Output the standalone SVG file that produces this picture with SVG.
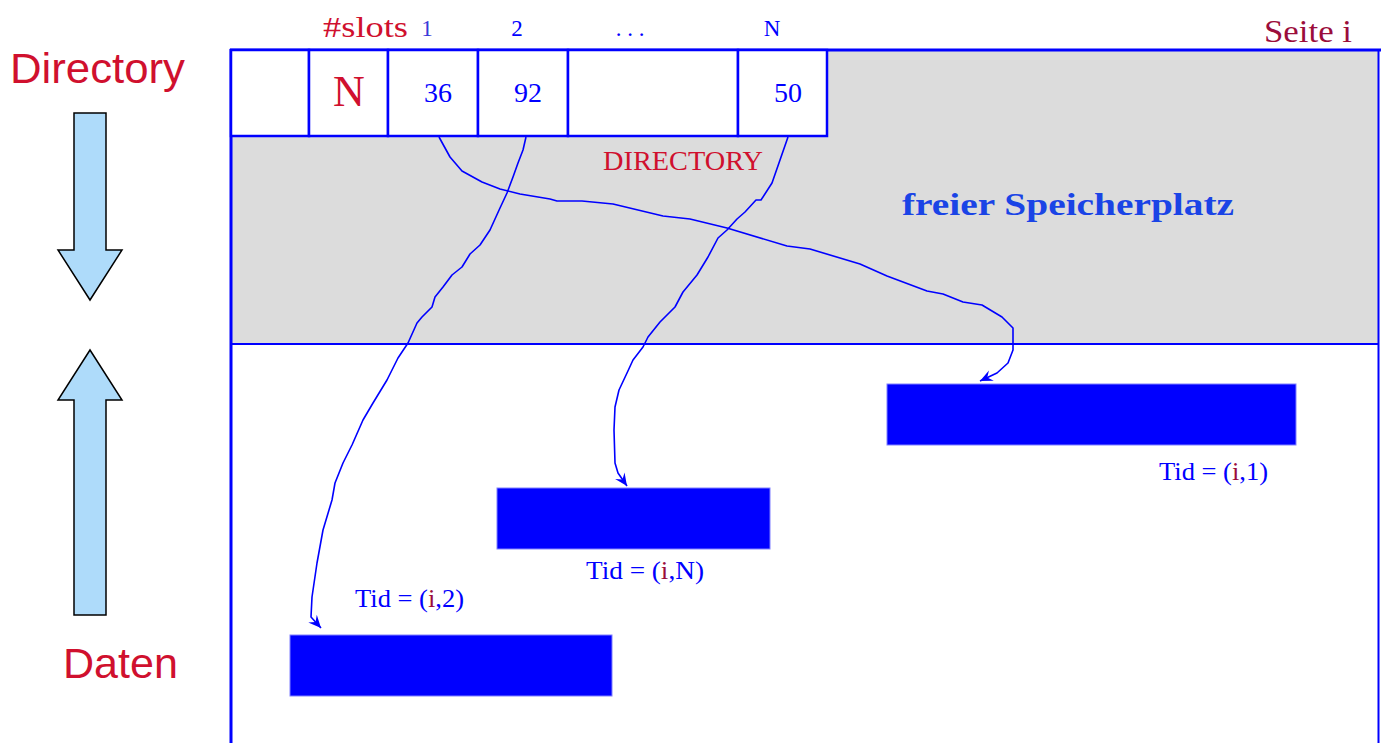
<svg xmlns="http://www.w3.org/2000/svg" width="1381" height="743" viewBox="0 0 1381 743">
<defs>
<style>
.serif{font-family:"Liberation Serif","DejaVu Serif",serif}
.sans{font-family:"Liberation Sans",Arial,sans-serif}
.red{fill:#d0102e}
.dred{fill:#9b0d3b}
.blue{fill:#0000ff}
.cell{fill:#ffffff;stroke:#0000ff;stroke-width:2.5}
.rec{fill:#0000ff;stroke:#8080ff;stroke-width:1}
.conn{fill:none;stroke:#0000ff;stroke-width:1.6;stroke-linejoin:round}
.big{fill:#aedbfa;stroke:#000;stroke-width:1.5}
</style>
<marker id="ah" markerUnits="userSpaceOnUse" markerWidth="16" markerHeight="14" viewBox="-12 -6 14 12" refX="0" refY="0" orient="auto">
<path d="M0,0 L-11,-5 L-7,0 L-11,5 Z" fill="#0000ff"/>
</marker>
</defs>
<rect width="1381" height="743" fill="#ffffff"/>

<g id="page">
<rect x="231" y="50" width="1147" height="294" fill="#dcdcdc"/>
<line x1="231" y1="344" x2="1379" y2="344" stroke="#0000ff" stroke-width="2"/>
<line x1="230" y1="50" x2="1381" y2="50" stroke="#0000ff" stroke-width="3"/>
<line x1="231" y1="49" x2="231" y2="743" stroke="#0000ff" stroke-width="3"/>
<line x1="1378.5" y1="50" x2="1378.5" y2="743" stroke="#0000ff" stroke-width="2"/>
<text x="1264" y="42" class="serif dred" font-size="31" textLength="88" lengthAdjust="spacingAndGlyphs">Seite i</text>
</g>

<g id="directory">
<rect class="cell" x="231" y="50" width="78" height="86"/>
<rect class="cell" x="309" y="50" width="79" height="86"/>
<rect class="cell" x="388" y="50" width="90" height="86"/>
<rect class="cell" x="478" y="50" width="90" height="86"/>
<rect class="cell" x="568" y="50" width="170" height="86"/>
<rect class="cell" x="738" y="50" width="89" height="86"/>
<text x="349" y="106" class="serif red" font-size="44" text-anchor="middle">N</text>
<text x="438" y="102" class="serif blue" font-size="28" text-anchor="middle">36</text>
<text x="528" y="102" class="serif blue" font-size="28" text-anchor="middle">92</text>
<text x="788" y="102" class="serif blue" font-size="28" text-anchor="middle">50</text>
<text x="323" y="37" class="serif red" font-size="29" textLength="85" lengthAdjust="spacingAndGlyphs">#slots</text>
<text x="427" y="36" class="serif" fill="#3a3ad8" font-size="23" text-anchor="middle">1</text>
<text x="517" y="36" class="serif blue" font-size="23" text-anchor="middle">2</text>
<text x="630" y="36" class="serif blue" font-size="23" text-anchor="middle">. . .</text>
<text x="772" y="36" class="serif blue" font-size="23" text-anchor="middle">N</text>
<text x="603" y="170" class="serif red" font-size="27" textLength="160" lengthAdjust="spacingAndGlyphs">DIRECTORY</text>
</g>

<g id="free-space">
<text x="902" y="215" class="serif" fill="#1a44e6" font-weight="bold" font-size="32" textLength="332" lengthAdjust="spacingAndGlyphs">freier Speicherplatz</text>
</g>

<g id="record-1">
<rect class="rec" x="887" y="384" width="409" height="61"/>
<text x="1159" y="480" class="serif blue" font-size="25" textLength="109" lengthAdjust="spacingAndGlyphs">Tid = (<tspan class="dred">i</tspan>,1)</text>
</g>
<g id="record-N">
<rect class="rec" x="497" y="488" width="273" height="61"/>
<text x="586" y="579" class="serif blue" font-size="25" textLength="118" lengthAdjust="spacingAndGlyphs">Tid = (<tspan class="dred">i</tspan>,N)</text>
</g>
<g id="record-2">
<rect class="rec" x="290" y="635" width="322" height="61"/>
<text x="355" y="607" class="serif blue" font-size="25" textLength="109" lengthAdjust="spacingAndGlyphs">Tid = (<tspan class="dred">i</tspan>,2)</text>
</g>

<g id="side-labels">
<text x="10" y="83" class="sans red" font-size="43" textLength="175" lengthAdjust="spacingAndGlyphs">Directory</text>
<text x="63" y="678" class="sans red" font-size="43" textLength="115" lengthAdjust="spacingAndGlyphs">Daten</text>
<path class="big" d="M74,113 L106,113 L106,250 L122,250 L90,300 L58,250 L74,250 Z"/>
<path class="big" d="M74,615 L106,615 L106,400 L122,400 L90,350 L58,400 L74,400 Z"/>
</g>

<g id="connectors">
<polyline class="conn" marker-end="url(#ah)" points="439,137 450,157 462,171 482,182 500,189 520,194 550,199 557,201 582,201 613,204 663,216 690,219 727,228 787,246 810,249 860,264 887,276 927,291 943,294 963,302 982,305 1002,317 1013,328 1013,350 1008,363 997,373 980,381"/>
<polyline class="conn" marker-end="url(#ah)" points="526,137 523,150 518,163 513,177 507,193 500,208 490,230 480,245 470,254 462,267 452,275 443,287 435,297 432,307 422,317 417,323 408,343 398,358 387,380 373,403 363,420 352,445 343,463 335,483 332,500 323,530 317,563 312,597 311,617 321,628"/>
<polyline class="conn" marker-end="url(#ah)" points="788,137 780,160 772,183 761,200 756,200 745,212 737,219 727,230 718,238 708,257 697,275 683,292 675,307 660,322 648,337 643,347 633,360 627,373 619,390 615,407 614,430 615,463 618,473 627,486"/>
</g>
</svg>
